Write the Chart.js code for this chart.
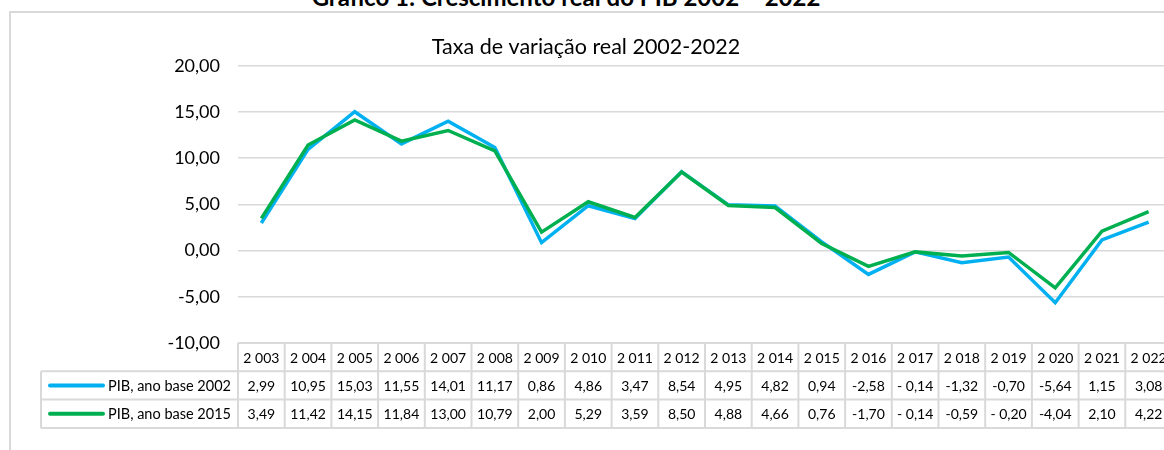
<!DOCTYPE html>
<html>
<head>
<meta charset="utf-8">
<script src="https://cdn.jsdelivr.net/npm/chart.js@4.4.1/dist/chart.umd.min.js"></script>
<style>
  html, body { margin: 0; padding: 0; overflow: hidden; background: #fff; }
  body { width: 1164px; height: 450px; position: relative; font-family: Lato, sans-serif; }
  #topTitle { position: absolute; left: 0; width: 1132px; top: -15px; line-height: 24px;
              text-align: center; font-weight: bold; font-size: 24px; color: #000; }
  #frame { position: absolute; left: 9px; top: 11px; width: 1200px; height: 500px;
           border: 2px solid #d9d9d9; }
  #wrap { position: absolute; left: 0; top: 0; width: 1175px; height: 450px; }
</style>
</head>
<body>
<div id="topTitle">Gráfico 1: Crescimento real do PIB 2002 – 2022</div>
<div id="frame"></div>
<div id="wrap"><canvas id="pibChart"></canvas></div>
<script>
const years = ['2 003', '2 004', '2 005', '2 006', '2 007', '2 008', '2 009', '2 010', '2 011', '2 012',
               '2 013', '2 014', '2 015', '2 016', '2 017', '2 018', '2 019', '2 020', '2 021', '2 022'];
const base2002 = [2.99, 10.95, 15.03, 11.55, 14.01, 11.17, 0.86, 4.86, 3.47, 8.54,
                  4.95, 4.82, 0.94, -2.58, -0.14, -1.32, -0.70, -5.64, 1.15, 3.08];
const base2015 = [3.49, 11.42, 14.15, 11.84, 13.00, 10.79, 2.00, 5.29, 3.59, 8.50,
                  4.88, 4.66, 0.76, -1.70, -0.14, -0.59, -0.20, -4.04, 2.10, 4.22];
const seriesNames = ['PIB, ano base 2002', 'PIB, ano base 2015'];
const yTicks = [-10, -5, 0, 5, 10, 15, 20];
// cells shown as "- 0,14" in the source table
const spacedMinus = [[14], [14, 16]];

const BLUE = '#00b0f0', GREEN = '#00b050', GRID = '#d9d9d9';

function fmt(v, s, i) {
    const t = Math.abs(v).toFixed(2).replace('.', ',');
    if (v < 0) return (spacedMinus[s].includes(i) ? '- ' : '-') + t;
    return t;
}

// data table under the plot, drawn against the x scale
const dataTable = {
    id: 'dataTable',
    afterDraw(chart) {
        const { ctx, chartArea } = chart;
        const x = chart.scales.x;
        const colW = (chartArea.right - chartArea.left) / years.length;
        const rowH = 28.3;
        const top = chartArea.bottom;
        const legendLeft = 41;
        const colors = [BLUE, GREEN];
        const series = [base2002, base2015];

        ctx.save();
        ctx.strokeStyle = GRID;
        ctx.lineWidth = 2;
        // horizontal lines
        ctx.beginPath();
        ctx.moveTo(chartArea.left, top); ctx.lineTo(chartArea.right, top);
        for (let r = 1; r <= 3; r++) {
            ctx.moveTo(legendLeft, top + r * rowH); ctx.lineTo(chartArea.right, top + r * rowH);
        }
        // vertical lines
        for (let c = 0; c <= years.length; c++) {
            const xx = chartArea.left + c * colW;
            ctx.moveTo(xx, top); ctx.lineTo(xx, top + 3 * rowH);
        }
        ctx.moveTo(legendLeft, top + rowH); ctx.lineTo(legendLeft, top + 3 * rowH);
        ctx.stroke();

        ctx.fillStyle = '#000';
        ctx.font = '14px Lato';
        ctx.textAlign = 'center';
        ctx.textBaseline = 'middle';
        years.forEach((y, i) => ctx.fillText(y, x.getPixelForValue(i), top + rowH / 2 + 1));
        series.forEach((vals, s) => {
            const cy = top + rowH * (s + 1.5) + 1;
            vals.forEach((v, i) => ctx.fillText(fmt(v, s, i), x.getPixelForValue(i), cy));
        });

        ctx.font = '14.5px Lato';
        series.forEach((vals, s) => {
            const cy = top + rowH * (s + 1.5);
            ctx.strokeStyle = colors[s];
            ctx.lineWidth = 4;
            ctx.lineCap = 'round';
            ctx.beginPath();
            ctx.moveTo(50, cy); ctx.lineTo(103, cy);
            ctx.stroke();
            ctx.textAlign = 'left';
            ctx.fillText(seriesNames[s], 108, cy + 1);
        });
        ctx.restore();
    }
};

new Chart(document.getElementById('pibChart'), {
    type: 'line',
    data: {
        labels: years,
        datasets: [
            { label: seriesNames[0], data: base2002, borderColor: BLUE, backgroundColor: BLUE, order: 1 },
            { label: seriesNames[1], data: base2015, borderColor: GREEN, backgroundColor: GREEN, order: 0 }
        ]
    },
    options: {
        responsive: true,
        maintainAspectRatio: false,
        animation: false,
        layout: { padding: { left: 0, right: 3, top: 12, bottom: 107 } },
        elements: {
            line: { borderWidth: 3.5, tension: 0 },
            point: { radius: 0, hoverRadius: 0 }
        },
        scales: {
            x: { display: false, offset: true },
            y: {
                min: -10, max: 20,
                afterFit(scale) { scale.width = 238; },
                afterBuildTicks(scale) { scale.ticks = yTicks.map(v => ({ value: v })); },
                border: { display: false },
                grid: { color: GRID, lineWidth: 1.5, drawTicks: false },
                ticks: {
                    padding: 18,
                    color: '#000',
                    font: { family: 'Lato', size: 18 },
                    callback: v => v.toFixed(2).replace('.', ',')
                }
            }
        },
        plugins: {
            legend: { display: false },
            tooltip: { enabled: false },
            title: {
                display: true,
                text: 'Taxa de variação real 2002-2022',
                color: '#000',
                font: { family: 'Lato', size: 21.5, weight: 'normal' },
                padding: { top: 22, bottom: 6 }
            }
        }
    },
    plugins: [dataTable]
});
</script>
</body>
</html>
